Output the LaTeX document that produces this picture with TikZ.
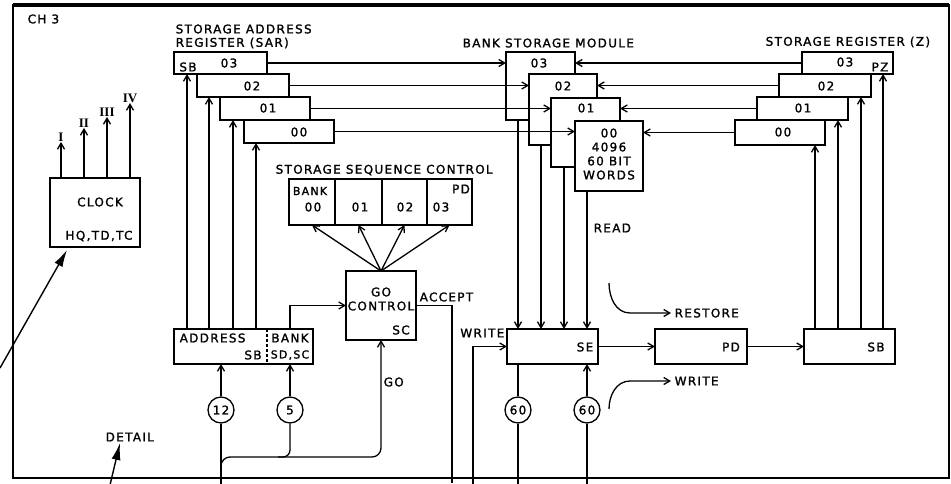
\documentclass[tikz,border=0pt]{standalone}
\usepackage{fontspec}
\usetikzlibrary{arrows.meta}
\newfontfamily\lblfont{DejaVu Sans}[LetterSpace=11,FakeBold=1.4]
\newfontfamily\romfont{Liberation Serif}
\newcommand{\mkbox}[5]{\node[box, minimum width={(#4-#2)*1pt}, minimum height={(#5-#3)*1pt}] (#1) at (#2,#3) {};}
\tikzset{
  ln/.style={line width=1.3pt},
  box/.style={draw, line width=1.3pt, fill=white, anchor=north west, inner sep=0pt, outer sep=0pt},
  txt/.style={inner sep=0.5pt, font={\lblfont\fontsize{12}{14}\selectfont}},
  smtxt/.style={inner sep=0.5pt, font={\lblfont\fontsize{11}{13}\selectfont}},
  rom/.style={inner sep=0.5pt, font={\romfont\bfseries\fontsize{13}{15}\selectfont}},
  circ/.style={draw, circle, line width=1.3pt, minimum size=26pt, inner sep=0pt, fill=white, font={\lblfont\fontsize{12}{12}\selectfont}},
  bigtip/.style={line width=1.4pt, -{Latex[length=17pt,width=9pt]}},
  arr/.style={line width=1.3pt, ->}
}
\begin{document}
\begin{tikzpicture}[x=1pt,y=-1pt, >={Straight Barb[length=6pt,width=7pt,line width=1.3pt]}]
\useasboundingbox (0,0) rectangle (951,483);
% frame
\draw[line width=2.4pt] (13,5) rectangle (949,478);
\draw[line width=3.2pt] (13,5) -- (949,5);
\node[txt, anchor=west] (ch) at (27,19) {CH 3};

% ---------- clock ----------
\mkbox{clock}{50}{178}{140}{247}
\node[txt] (clocktxt) at (100,202) {CLOCK};
\node[txt] (clockhq) at (99,236) {HQ,TD,TC};
\node[rom] (rI) at (61,137) {I};
\node[rom] (rII) at (84,123) {II};
\node[rom] (rIII) at (107,112) {III};
\node[rom] (rIV) at (130,98) {IV};
\foreach \r in {rI,rII,rIII,rIV} { \draw[arr] (clock.north -| \r) -- (\r.south); }
\coordinate (clkptr) at (0,368);
\coordinate (clktip) at (67,250);
\draw[bigtip] (clkptr) -- (clktip);

% detail
\node[txt, anchor=west] (detail) at (105,437) {DETAIL};
\coordinate (detptr) at (110,485);
\coordinate (dettip) at (120,443);
\draw[bigtip] (detptr) -- (dettip);

% ---------- SAR ----------
\node[txt, anchor=west] (sartitle1) at (175,29) {STORAGE ADDRESS};
\node[txt, anchor=west] (sartitle2) at (175,43) {REGISTER (SAR)};
\mkbox{sar3}{174}{52}{267}{74}
\mkbox{sar2}{197}{74}{289}{97}
\mkbox{sar1}{220}{97}{310}{120}
\mkbox{sar0}{244}{120}{334}{143}
\node[txt] (sarsb) at (188,67) {SB};
\node[txt] (sar3t) at (229,63) {03};
\node[txt] (sar2t) at (252,86) {02};
\node[txt] (sar1t) at (268,108) {01};
\node[txt] (sar0t) at (299,132) {00};

% ---------- bank storage module ----------
\node[txt, anchor=west] (banktitle) at (462,43) {BANK STORAGE MODULE};
\mkbox{bank3}{506}{52}{575}{120}
\mkbox{bank2}{529}{74}{597}{145}
\mkbox{bank1}{551}{98}{620}{167}
\mkbox{bank0}{575}{121}{643}{191}
\node[txt] (bank3t) at (539,63) {03};
\node[txt] (bank2t) at (563,86) {02};
\node[txt] (bank1t) at (586,108) {01};
\node[txt, align=center] (bank0t) at (609,154) {00\\4096\\60 BIT\\WORDS};

% ---------- storage register Z ----------
\node[txt, anchor=west] (ztitle) at (765,42) {STORAGE REGISTER (Z)};
\mkbox{z3}{802}{52}{893}{74}
\mkbox{z2}{779}{74}{871}{97}
\mkbox{z1}{757}{97}{848}{120}
\mkbox{z0}{735}{120}{825}{145}
\node[txt] (z3t) at (845,62) {03};
\node[txt] (zpz) at (880,67) {PZ};
\node[txt] (z2t) at (826,86) {02};
\node[txt] (z1t) at (803,108) {01};
\node[txt] (z0t) at (783,132) {00};

% SAR -> bank, Z -> bank
\draw[arr] (sar3.east) -- (sar3.east -| bank3.west);
\draw[arr] (sar2.east) -- (sar2.east -| bank2.west);
\draw[arr] (sar1.east) -- (sar1.east -| bank1.west);
\draw[arr] (sar0.east) -- (sar0.east -| bank0.west);
\draw[arr] (z3.west) -- (z3.west -| bank3.east);
\draw[arr] (z2.west) -- (z2.west -| bank2.east);
\draw[arr] (z1.west) -- (z1.west -| bank1.east);
\draw[arr] (z0.west) -- (z0.west -| bank0.east);

% ---------- storage sequence control ----------
\node[txt, anchor=west] (ssctitle) at (275,170) {STORAGE SEQUENCE CONTROL};
\mkbox{ssc0}{289}{179}{335}{225}
\mkbox{ssc1}{335}{179}{382}{225}
\mkbox{ssc2}{382}{179}{427}{225}
\mkbox{ssc3}{427}{179}{472}{225}
\node[smtxt] (sscbank) at (310,191) {BANK};
\node[txt] (ssc0t) at (313,207) {00};
\node[txt] (ssc1t) at (360,207) {01};
\node[txt] (ssc2t) at (405,207) {02};
\node[txt] (ssc3t) at (441,207) {03};
\node[txt] (sscpd) at (461,189) {PD};

% ---------- go control ----------
\mkbox{go}{346}{271}{416}{340}
\node[txt] (gogo) at (381,292) {GO};
\node[txt] (gocontrol) at (381,306) {CONTROL};
\node[txt] (gosc) at (401,330) {SC};
\foreach \s in {ssc0,ssc1,ssc2,ssc3} { \draw[arr] (go.north) -- (\s.south); }
\node[txt, anchor=west] (accept) at (419,297) {ACCEPT};
\coordinate (acceptend) at (452,483);
\draw[ln] (go.east) -| (acceptend);

% ---------- address / bank ----------
\mkbox{addr}{174}{329}{313}{364}
\draw[ln, dash pattern=on 3pt off 2pt] ([xshift=93pt]addr.north west) -- ([xshift=93pt]addr.south west);
\node[txt, anchor=west] (addrt) at (179,338) {ADDRESS};
\node[txt] (addrsb) at (253,355) {SB};
\node[txt] (addrbank) at (290,338) {BANK};
\node[smtxt] (addrsdsc) at (290,355) {SD,SC};
\foreach \s/\xx in {sar3/187,sar2/209,sar1/233,sar0/256} {
  \draw[arr] (\xx,0 |- addr.north) -- (\xx,0 |- \s.south);
}
\coordinate (bankout) at ([xshift=116pt]addr.north west);
\draw[arr] (bankout) |- (go.west);

% circles 12, 5 and bus
\node[circ] (c12) at (221,410) {12};
\node[circ] (c5) at (290,410) {5};
\draw[arr] (c12.north) -- (c12 |- addr.south);
\draw[arr] (c5.north) -- (c5 |- addr.south);
\coordinate (c12end) at (221,485);
\draw[ln] (c12.south) -- (c12end);
\coordinate (busstart) at (221,478);
\draw[arr, rounded corners=9pt] (busstart) |- (go.south |- 0,457) -- (go.south);
\draw[ln, rounded corners=7pt] (c5.south) |- ([xshift=-12pt]c5.south |- 0,457);
\node[txt, anchor=west] (golbl) at (383,382) {GO};

% ---------- SE, PD, SB ----------
\mkbox{se}{507}{329}{598}{364}
\mkbox{pd}{655}{329}{747}{364}
\mkbox{sb}{804}{329}{895}{364}
\node[txt] (set) at (585,347) {SE};
\node[txt] (pdt) at (731,347) {PD};
\node[txt] (sbt) at (876,347) {SB};
\draw[arr] (se) -- (pd);
\draw[arr] (pd) -- (sb);
\foreach \b/\xx in {bank3/518,bank2/541,bank1/564,bank0/587} {
  \draw[arr] (\xx,0 |- \b.south) -- (\xx,0 |- se.north);
}
\foreach \z/\xx in {z0/815,z1/838,z2/861,z3/883} {
  \draw[arr] (\xx,0 |- sb.north) -- (\xx,0 |- \z.south);
}
\node[txt, anchor=west] (readlbl) at (593,228) {READ};

% write input
\node[txt, anchor=east] (writelbl) at (505,333) {WRITE};
\coordinate (wrin) at (473,485);
\draw[arr] (wrin) |- (se.west);

% 60 circles
\node[circ] (c60a) at (518,410) {60};
\node[circ] (c60b) at (587,410) {60};
\coordinate (c60aend) at (518,485);
\coordinate (c60bend) at (587,485);
\draw[ln] (c60a |- se.south) -- (c60a.north);
\draw[ln] (c60a.south) -- (c60aend);
\draw[arr] (c60b.north) -- (c60b |- se.south);
\draw[ln] (c60b.south) -- (c60bend);

% restore / write curves
\node[txt, anchor=west] (restore) at (674,313) {RESTORE};
\node[txt, anchor=west] (write2) at (674,381) {WRITE};
\coordinate (rsstart) at (609,283);
\coordinate (wrstart) at (609,409);
\draw[arr] (rsstart) to[out=-90,in=180] (630,313) -- ([xshift=-3pt]restore.west);
\draw[arr] (wrstart) to[out=90,in=180] (630,381) -- ([xshift=-3pt]write2.west);
\end{tikzpicture}
\end{document}
